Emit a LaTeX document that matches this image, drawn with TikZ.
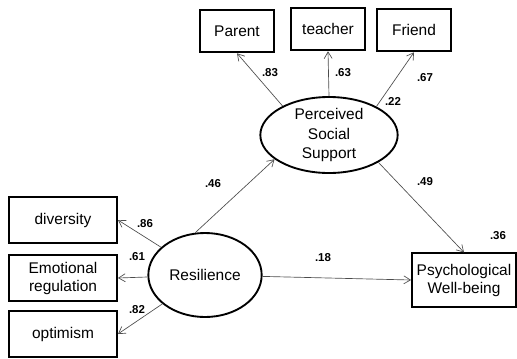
\documentclass[tikz,border=0pt]{standalone}
\usepackage{fontspec}
\setmainfont{Liberation Sans}
\usepackage{tikz}
\usetikzlibrary{arrows.meta,positioning,shapes.geometric}

\begin{document}
\begin{tikzpicture}[x=0.75pt,y=-0.75pt,
  obs/.style={draw,line width=1.4pt,align=center,inner sep=1pt,font=\fontsize{11.6}{13.5}\selectfont},
  latent/.style={draw,ellipse,line width=1.4pt,align=center,inner sep=0pt,font=\fontsize{11.6}{14.5}\selectfont},
  path/.style={draw=black!70,line width=0.5pt,-{Straight Barb[length=5pt,width=6pt]}},
  coef/.style={font=\bfseries\fontsize{8.6}{9}\selectfont,inner sep=1pt}]

\useasboundingbox (0,0) rectangle (517,358);

\node(pss)[latent,minimum width=103pt,minimum height=57pt] at (329,135){Perceived\\Social\\Support};

\node(res)[latent,minimum width=85pt,minimum height=63pt] at (205,275){Resilience};

\node(par)[obs,minimum width=55pt,minimum height=32pt] at (237,31){Parent};

\node(tea)[obs,minimum width=55pt,minimum height=32pt] at (328,29){teacher};

\node(fri)[obs,minimum width=56pt,minimum height=32pt] at (414,30){Friend};

\node(div)[obs,minimum width=81pt,minimum height=34pt] at (63,220){diversity};

\node(emo)[obs,minimum width=81pt,minimum height=34pt] at (63,278){Emotional\\regulation};

\node(opt)[obs,minimum width=81pt,minimum height=34pt] at (63,334){optimism};

\node(pwb)[obs,minimum width=78pt,minimum height=40pt] at (464,280){Psychological\\Well-being};

\draw[path] (pss.148) -- (par.south);

\draw[path] (pss.north) -- (tea.south);

\draw[path] (pss.31) -- (fri.south);

\draw[path] (pss.-29) -- (pwb.north);

\draw[path] (res) -- (div.east);

\draw[path] (res) -- (emo.east);

\draw[path] (res) -- (opt.east);

\draw[path] (res.103) -- (pss.204);

\draw[path] (res) -- (pwb.west);

% coefficients
\node(c83)[coef] at (270,73){.83};

\node(c63)[coef] at (343,73){.63};

\node(c67)[coef] at (425,78){.67};

\node(c22)[coef] at (393,101){.22};

\node(c46)[coef] at (213,184){.46};

\node(c49)[coef] at (425,182){.49};

\node(c36)[coef] at (498,236){.36};

\node(c18)[coef] at (323,258){.18};

\node(c86)[coef] at (145,224){.86};

\node(c61)[coef] at (137,257){.61};

\node(c82)[coef] at (137,310){.82};

\end{tikzpicture}
\end{document}
